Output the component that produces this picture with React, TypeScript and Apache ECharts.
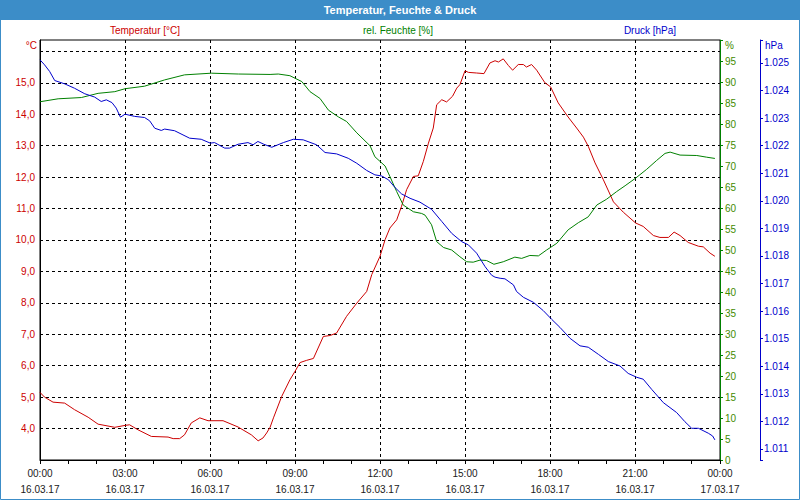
import React, { useEffect, useRef } from "react";
import * as echarts from "echarts";

const TITLE = "Temperatur, Feuchte & Druck";
const SERIES_NAMES = ["Temperatur [°C]", "rel. Feuchte [%]", "Druck [hPa]"];
const UNITS = ["°C", "%", "hPa"];

const tempHours = [0, 0.16, 0.46, 0.87, 1.22, 1.7, 2.05, 2.64, 3.0, 3.16, 3.46, 3.93, 4.52, 4.7, 4.93, 5.1, 5.34, 5.64, 5.93, 6.46, 6.99, 7.46, 7.7, 7.87, 8.0, 8.12, 8.24, 8.53, 8.82, 9.0, 9.18, 9.41, 9.65, 10.0, 10.24, 10.47, 10.82, 11.18, 11.53, 11.71, 12.0, 12.18, 12.35, 12.59, 12.76, 12.94, 13.18, 13.35, 13.53, 13.71, 13.88, 14.0, 14.18, 14.35, 14.56, 14.71, 14.82, 15.0, 15.12, 15.41, 15.67, 15.88, 16.06, 16.18, 16.35, 16.53, 16.68, 16.88, 17.06, 17.17, 17.35, 17.53, 17.82, 18.02, 18.29, 18.64, 18.94, 19.18, 19.35, 19.59, 19.88, 20.24, 20.59, 21.02, 21.29, 21.65, 21.88, 22.18, 22.38, 22.59, 22.88, 23.24, 23.41, 23.65, 23.82];
const tempValues = [5.15, 5.0, 4.84, 4.81, 4.6, 4.36, 4.14, 4.04, 4.1, 4.12, 3.96, 3.75, 3.73, 3.68, 3.68, 3.8, 4.18, 4.34, 4.25, 4.25, 4.05, 3.8, 3.61, 3.7, 3.86, 4.04, 4.34, 5.02, 5.55, 5.82, 6.1, 6.17, 6.23, 6.93, 6.96, 7.04, 7.57, 7.99, 8.36, 8.9, 9.48, 10.01, 10.38, 10.64, 11.07, 11.6, 12.02, 12.04, 12.5, 13.08, 13.56, 14.3, 14.46, 14.39, 14.57, 14.83, 14.94, 15.38, 15.33, 15.31, 15.29, 15.63, 15.7, 15.66, 15.76, 15.55, 15.4, 15.58, 15.58, 15.5, 15.58, 15.4, 15.0, 14.87, 14.36, 13.91, 13.56, 13.27, 12.98, 12.45, 11.92, 11.21, 10.88, 10.54, 10.43, 10.14, 10.08, 10.08, 10.25, 10.14, 9.92, 9.8, 9.78, 9.58, 9.48];

const humHours = [0, 0.64, 1.46, 2.05, 2.64, 3.0, 3.69, 4.4, 5.1, 6.05, 7.0, 8.12, 8.41, 8.82, 9.24, 9.53, 9.88, 10.18, 10.53, 10.82, 11.18, 11.65, 11.82, 12.18, 12.35, 12.59, 12.82, 13.18, 13.47, 13.59, 13.82, 14.0, 14.24, 14.53, 14.82, 15.06, 15.29, 15.53, 15.76, 16.02, 16.35, 16.76, 17.0, 17.29, 17.59, 17.88, 18.24, 18.64, 19.0, 19.35, 19.65, 20.0, 20.35, 20.65, 21.02, 21.41, 21.76, 22.06, 22.24, 22.59, 23.18, 23.53, 23.82];
const humValues = [85.3, 86.0, 86.3, 87.3, 87.7, 88.4, 89.0, 90.5, 91.7, 92.1, 91.9, 91.8, 91.9, 91.5, 90.1, 87.7, 86.1, 83.3, 81.7, 80.6, 77.9, 74.8, 72.2, 70.0, 67.5, 63.9, 60.7, 59.1, 58.7, 58.3, 56.0, 52.0, 50.6, 50.0, 48.4, 47.2, 47.1, 47.6, 47.5, 46.6, 47.2, 48.3, 48.0, 48.7, 48.6, 50.0, 51.6, 54.8, 56.5, 57.9, 60.7, 62.1, 63.9, 65.3, 67.1, 69.2, 71.3, 73.0, 73.3, 72.6, 72.5, 72.1, 71.8];

const presHours = [0, 0.16, 0.34, 0.52, 0.87, 1.22, 1.58, 1.93, 2.16, 2.34, 2.54, 2.69, 2.84, 3.0, 3.34, 3.69, 3.87, 4.05, 4.28, 4.4, 4.75, 5.28, 5.69, 6.01, 6.16, 6.52, 6.69, 6.99, 7.34, 7.52, 7.69, 7.9, 8.18, 8.59, 8.94, 9.29, 9.76, 10.06, 10.47, 10.88, 11.18, 11.53, 11.82, 12.06, 12.3, 12.53, 12.76, 13.06, 13.41, 13.82, 14.18, 14.53, 14.88, 15.12, 15.41, 15.71, 15.94, 16.06, 16.24, 16.41, 16.71, 16.82, 17.06, 17.41, 17.76, 18.06, 18.35, 18.71, 19.06, 19.35, 19.71, 20.06, 20.47, 20.76, 21.06, 21.29, 21.59, 22.0, 22.47, 22.76, 23.0, 23.24, 23.59, 23.74, 23.82];
const presValues = [1025.11, 1024.93, 1024.69, 1024.36, 1024.24, 1024.08, 1023.88, 1023.76, 1023.6, 1023.66, 1023.56, 1023.36, 1023.03, 1023.14, 1023.06, 1023.02, 1022.9, 1022.63, 1022.55, 1022.6, 1022.54, 1022.27, 1022.23, 1022.09, 1022.11, 1021.91, 1021.91, 1022.05, 1022.11, 1022.03, 1022.15, 1022.05, 1021.94, 1022.11, 1022.23, 1022.21, 1022.03, 1021.75, 1021.7, 1021.54, 1021.36, 1021.1, 1020.94, 1020.9, 1020.76, 1020.48, 1020.25, 1020.09, 1019.95, 1019.69, 1019.25, 1018.82, 1018.52, 1018.4, 1018.1, 1017.61, 1017.3, 1017.23, 1017.19, 1017.17, 1016.95, 1016.71, 1016.5, 1016.32, 1016.02, 1015.7, 1015.41, 1015.01, 1014.74, 1014.69, 1014.43, 1014.17, 1014.01, 1013.74, 1013.6, 1013.53, 1013.16, 1012.68, 1012.32, 1011.99, 1011.75, 1011.75, 1011.57, 1011.47, 1011.33];

const DAY1 = "16.03.17";
const DAY2 = "17.03.17";

const RED = "#cc0000";
const GREEN = "#008000";
const GREEN_LABEL = "#3f8a00";
const BLUE = "#0000cc";
const FRAME = "#3c8dc8";
const FONT = '"Liberation Sans", Arial, sans-serif';

const pairs = (xs: number[], ys: number[]) => xs.map((x, i) => [x, ys[i]]);

export default function App() {
  const ref = useRef<HTMLDivElement>(null);
  useEffect(() => {
    if (!ref.current) return;
    const chart = echarts.init(ref.current, undefined, { renderer: "svg" });
    const dash = { color: "#000", width: 1, type: [3, 3] as any };
    const option: any = {
      animation: false,
      backgroundColor: "#ffffff",
      grid: {
        left: 40, top: 40, width: 680, height: 420,
        show: true, borderColor: "#000", borderWidth: 1, backgroundColor: "#ffffff",
        containLabel: false,
      },
      xAxis: {
        type: "value", min: 0, max: 24, interval: 3,
        axisLine: { show: true, lineStyle: { color: "#000", width: 1 } },
        axisTick: { show: true, length: 4, lineStyle: { color: "#000" } },
        minorTick: { show: true, splitNumber: 3, length: 4, lineStyle: { color: "#000" } },
        splitLine: { show: true, showMinLine: false, showMaxLine: false, lineStyle: dash },
        axisLabel: {
          margin: 5, fontSize: 10, fontFamily: FONT, color: "#202020", lineHeight: 16,
          formatter: (v: number) => {
            const h = Math.round(v) % 24;
            const day = v >= 24 ? DAY2 : DAY1;
            return `${String(h).padStart(2, "0")}:00\n${day}`;
          },
        },
      },
      yAxis: [
        {
          type: "value", position: "left", min: 3, max: 16.36, interval: 1,
          axisLine: { show: true, lineStyle: { color: "#000", width: 1 } },
          axisTick: { show: false },
          splitLine: { show: true, showMinLine: false, showMaxLine: false, lineStyle: dash },
          axisLabel: {
            margin: 5, fontSize: 10, fontFamily: FONT, color: RED,
            formatter: (v: number) => (v >= 4 && v <= 15 && Math.abs(v - Math.round(v)) < 1e-6 ? v.toFixed(1).replace(".", ",") : ""),
          },
        },
        {
          type: "value", position: "right", offset: 0, min: 0, max: 100, interval: 5,
          axisLine: { show: true, onZero: false, lineStyle: { color: GREEN, width: 1 } },
          axisTick: { show: true, length: 3, lineStyle: { color: GREEN } },
          splitLine: { show: false },
          axisLabel: {
            margin: 5, fontSize: 10, fontFamily: FONT, color: GREEN_LABEL,
            formatter: (v: number) => (v < 100 ? String(v) : ""),
          },
        },
        {
          type: "value", position: "right", offset: 40, min: 1010.6, max: 1025.83, splitNumber: 15,
          axisLine: { show: true, onZero: false, lineStyle: { color: BLUE, width: 1 } },
          axisTick: { show: true, length: 3, lineStyle: { color: BLUE } },
          splitLine: { show: false },
          axisLabel: {
            margin: 4, fontSize: 10, fontFamily: FONT, color: BLUE,
            formatter: (v: number) => {
              if (Math.abs(v - Math.round(v)) > 1e-6) return "";
              const r = Math.round(v);
              return `${Math.floor(r / 1000)}.${String(r % 1000).padStart(3, "0")}`;
            },
          },
        },
      ],
      series: [
        {
          name: SERIES_NAMES[0], type: "line", yAxisIndex: 0, showSymbol: false, silent: true,
          lineStyle: { color: RED, width: 1 }, itemStyle: { color: RED },
          data: pairs(tempHours, tempValues),
        },
        {
          name: SERIES_NAMES[1], type: "line", yAxisIndex: 1, showSymbol: false, silent: true,
          lineStyle: { color: GREEN, width: 1 }, itemStyle: { color: GREEN },
          data: pairs(humHours, humValues),
        },
        {
          name: SERIES_NAMES[2], type: "line", yAxisIndex: 2, showSymbol: false, silent: true,
          lineStyle: { color: BLUE, width: 1 }, itemStyle: { color: BLUE },
          data: pairs(presHours, presValues),
        },
      ],
      graphic: [
        { type: "rect", shape: { x: 0, y: 0, width: 800, height: 20 }, style: { fill: FRAME }, silent: true },
        { type: "rect", shape: { x: 0.5, y: 0.5, width: 799, height: 499 }, style: { fill: "none", stroke: FRAME, lineWidth: 1 }, silent: true },
        { type: "text", x: 400, y: 10, style: { text: TITLE, fill: "#ffffff", font: `bold 11px ${FONT}`, align: "center", verticalAlign: "middle" } },
        { type: "text", x: 145, y: 30, style: { text: SERIES_NAMES[0], fill: RED, font: `10px ${FONT}`, align: "center", verticalAlign: "middle" } },
        { type: "text", x: 398, y: 30, style: { text: SERIES_NAMES[1], fill: GREEN, font: `10px ${FONT}`, align: "center", verticalAlign: "middle" } },
        { type: "text", x: 650, y: 30, style: { text: SERIES_NAMES[2], fill: BLUE, font: `10px ${FONT}`, align: "center", verticalAlign: "middle" } },
        { type: "text", x: 37, y: 45, style: { text: UNITS[0], fill: RED, font: `10px ${FONT}`, align: "right", verticalAlign: "middle" } },
        { type: "text", x: 725, y: 45, style: { text: UNITS[1], fill: GREEN_LABEL, font: `10px ${FONT}`, align: "left", verticalAlign: "middle" } },
        { type: "text", x: 765, y: 45, style: { text: UNITS[2], fill: BLUE, font: `10px ${FONT}`, align: "left", verticalAlign: "middle" } },
      ],
    };
    chart.setOption(option);
    return () => chart.dispose();
  }, []);
  return <div ref={ref} style={{ position: "fixed", left: 0, top: 0, width: 800, height: 500 }} />;
}
